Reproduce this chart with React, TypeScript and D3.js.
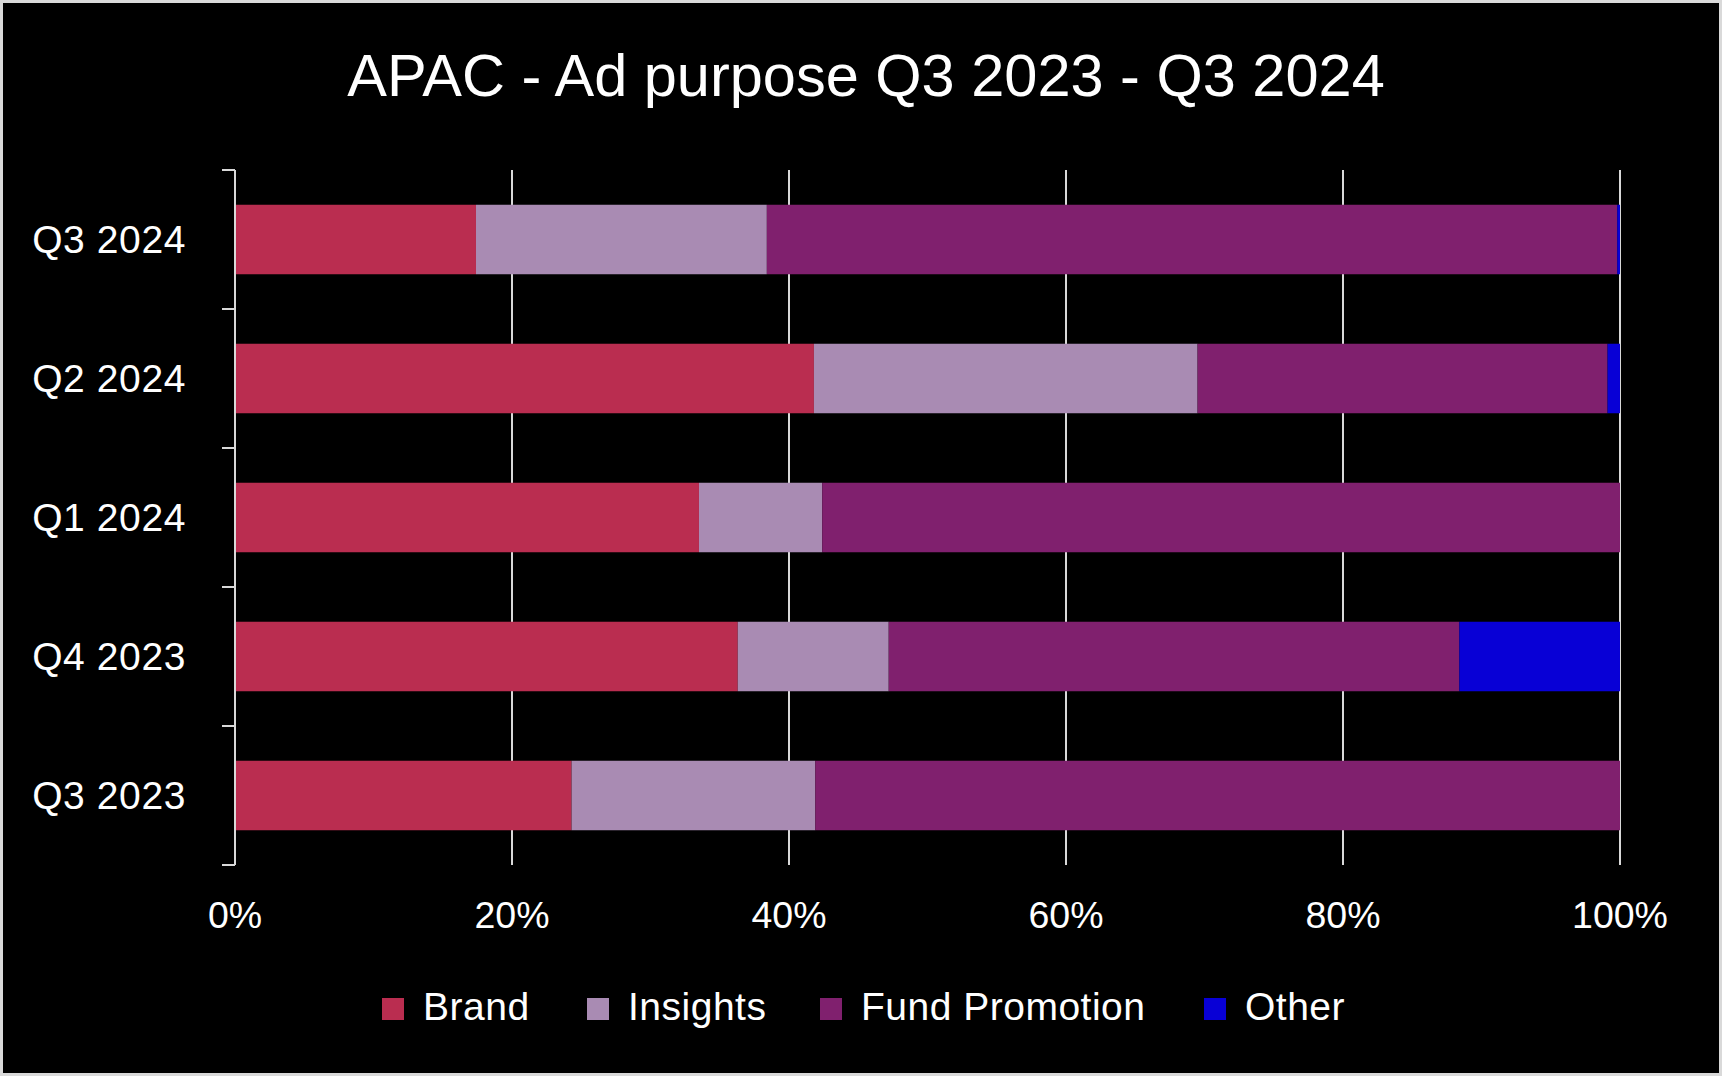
import React, { useEffect, useRef } from "react";
import * as d3 from "d3";

const categories = ["Q3 2024", "Q2 2024", "Q1 2024", "Q4 2023", "Q3 2023"];
const seriesNames = ["Brand", "Insights", "Fund Promotion", "Other"];
const brand = [17.4, 41.8, 33.5, 36.3, 24.3];
const insights = [21.0, 27.7, 8.9, 10.9, 17.6];
const fundPromotion = [61.4, 29.6, 57.6, 41.2, 58.1];
const other = [0.2, 0.9, 0.0, 11.6, 0.0];
const seriesColors = ["#BA2D50", "#A98BB3", "#80206E", "#0800D6"];
const xTicks = [0, 20, 40, 60, 80, 100];

const W = 1722;
const H = 1076;
const FONT = "'Liberation Sans', Arial, sans-serif";

export default function App() {
  const ref = useRef<SVGSVGElement | null>(null);

  useEffect(() => {
    const svg = d3.select(ref.current);
    svg.selectAll("*").remove();

    svg.append("rect").attr("width", W).attr("height", H).attr("fill", "#d9d9d9");
    svg.append("rect").attr("x", 3).attr("y", 3).attr("width", W - 6).attr("height", H - 6).attr("fill", "#000");

    const x = d3.scaleLinear().domain([0, 100]).range([235, 1620]);
    const y = d3.scaleBand<string>().domain(categories).range([170, 865]).paddingInner(0.5).paddingOuter(0.25);

    // title
    svg.append("text")
      .attr("x", 866).attr("y", 96)
      .attr("text-anchor", "middle")
      .attr("fill", "#fff")
      .style("font-family", FONT)
      .style("font-size", "59.5px")
      .text("APAC - Ad purpose Q3 2023 - Q3 2024");

    // gridlines
    const gridColor = "#d9d9d9";
    svg.append("g").selectAll("line").data(xTicks.slice(1)).join("line")
      .attr("x1", (d) => x(d)).attr("x2", (d) => x(d))
      .attr("y1", 170).attr("y2", 865)
      .attr("stroke", gridColor).attr("stroke-width", 2);

    // stacked data
    const rows = categories.map((c, i) => ({
      cat: c,
      Brand: brand[i],
      Insights: insights[i],
      "Fund Promotion": fundPromotion[i],
      Other: other[i],
    }));
    const stack = d3.stack<any>().keys(seriesNames)(rows);
    const color = d3.scaleOrdinal<string, string>().domain(seriesNames).range(seriesColors);

    svg.append("g").selectAll("g").data(stack).join("g")
      .attr("fill", (s) => color(s.key))
      .selectAll("rect").data((s) => s).join("rect")
      .attr("x", (d) => x(d[0]))
      .attr("width", (d) => Math.max(0, x(d[1]) - x(d[0])))
      .attr("y", (d) => y(d.data.cat)!)
      .attr("height", y.bandwidth());

    // y axis line and ticks
    const step = y.step();
    svg.append("line").attr("x1", 235).attr("x2", 235).attr("y1", 170).attr("y2", 865)
      .attr("stroke", gridColor).attr("stroke-width", 2);
    svg.append("g").selectAll("line").data(d3.range(categories.length + 1)).join("line")
      .attr("x1", 222).attr("x2", 235)
      .attr("y1", (i) => 170 + i * step).attr("y2", (i) => 170 + i * step)
      .attr("stroke", gridColor).attr("stroke-width", 2);

    // y labels
    svg.append("g").selectAll("text").data(categories).join("text")
      .attr("x", 186)
      .attr("y", (d) => y(d)! + y.bandwidth() / 2 + 13)
      .attr("text-anchor", "end")
      .attr("fill", "#fff")
      .style("font-family", FONT)
      .style("font-size", "39px")
      .style("letter-spacing", "0.6px")
      .text((d) => d);

    // x labels
    svg.append("g").selectAll("text").data(xTicks).join("text")
      .attr("x", (d) => x(d))
      .attr("y", 928)
      .attr("text-anchor", "middle")
      .attr("fill", "#fff")
      .style("font-family", FONT)
      .style("font-size", "37.5px")
      .text((d) => d + "%");

    // legend
    const legendX = [382, 587, 820, 1204];
    const lg = svg.append("g");
    seriesNames.forEach((name, i) => {
      const cx = legendX[i];
      lg.append("rect").attr("x", cx).attr("y", 998).attr("width", 22).attr("height", 22).attr("fill", seriesColors[i]);
      lg.append("text")
        .attr("x", cx + 41).attr("y", 1020)
        .attr("fill", "#fff")
        .style("font-family", FONT)
        .style("font-size", "39px")
        .style("letter-spacing", "0.5px")
        .text(name);
    });
  }, []);

  return (
    <svg ref={ref} width={W} height={H} style={{ display: "block", position: "absolute", left: 0, top: 0 }} />
  );
}
